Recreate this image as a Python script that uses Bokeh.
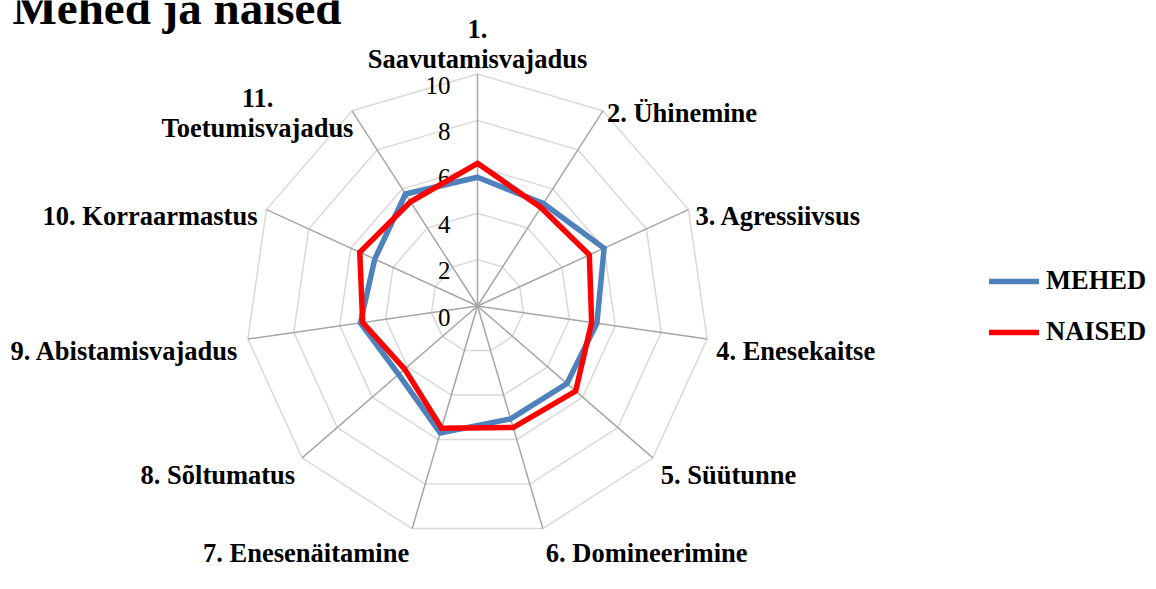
import math
from bokeh.plotting import figure
from bokeh.models import Range1d, Legend, LegendItem, Label
from bokeh.core.properties import value
from bokeh.embed import file_html
from bokeh.resources import INLINE

# ---------------- data ----------------
title_text = "Mehed ja naised"
categories = ["1. Saavutamisvajadus", "2. Ühinemine", "3. Agressiivsus",
              "4. Enesekaitse", "5. Süütunne", "6. Domineerimine",
              "7. Enesenäitamine", "8. Sõltumatus", "9. Abistamisvajadus",
              "10. Korraarmastus", "11. Toetumisvajadus"]
mehed = [5.55, 5.25, 6.0, 5.2, 5.1, 5.07, 5.7, 4.5, 5.1, 4.87, 5.74]
naised = [6.15, 5.05, 5.3, 4.97, 5.6, 5.46, 5.49, 4.15, 5.0, 5.58, 5.34]
series_names = ["MEHED", "NAISED"]
ticks = [0, 2, 4, 6, 8, 10]
r_max = 10

# ---------------- layout ----------------
W, H = 1156, 589
CX, CY = 477, 305.5          # centre of radar in figure px
UNIT = 23.2                  # px per value unit
FONT_NAME = "Liberation Serif"
FONT = value(FONT_NAME)
LBL_SIZE = "26.5px"

p = figure(frame_width=W, frame_height=H, output_backend="svg", toolbar_location=None,
           x_range=Range1d(-CX / UNIT, (W - CX) / UNIT),
           y_range=Range1d(-(H - CY) / UNIT, CY / UNIT),
           x_axis_location=None, y_axis_location=None,
           min_border=0, title=None)
p.grid.visible = False
p.outline_line_color = None
p.background_fill_color = "white"

n = len(categories)
ang = [math.pi / 2 - 2 * math.pi * k / n for k in range(n)]

# rings
ring_xs, ring_ys = [], []
for t in ticks[1:]:
    ring_xs.append([t * math.cos(a) for a in ang] + [t * math.cos(ang[0])])
    ring_ys.append([t * math.sin(a) for a in ang] + [t * math.sin(ang[0])])
p.multi_line(ring_xs, ring_ys, line_color="#d9d9d9", line_width=1.5)

# spokes
p.segment(x0=[0] * n, y0=[0] * n,
          x1=[r_max * math.cos(a) for a in ang],
          y1=[r_max * math.sin(a) for a in ang],
          line_color="#a6a6a6", line_width=1.5)

# tick labels
p.text(x=[-27 / UNIT] * len(ticks), y=[t - 11 / UNIT for t in ticks],
       text=[str(t) for t in ticks], text_font=FONT, text_font_size="25px",
       text_align="right", text_baseline="alphabetic", text_color="black")

# series
def closed(vals):
    xs = [v * math.cos(a) for v, a in zip(vals, ang)]
    ys = [v * math.sin(a) for v, a in zip(vals, ang)]
    return xs + xs[:1], ys + ys[:1]

bx, by = closed(mehed)
rx, ry = closed(naised)
r_blue = p.line(bx, by, line_color="#4F81BD", line_width=5.5, line_join="miter", line_cap="round")
r_red = p.line(rx, ry, line_color="#FF0000", line_width=5.5, line_join="miter", line_cap="round")

# category labels: (dx, dy) px offsets from spoke end, dy down; align
label_layout = {
    0: ("center", [(0, -45), (0, -15)]),
    1: ("left", [(4, 2)]),
    2: ("left", [(7, 6)]),
    3: ("left", [(9, 11.5)]),
    4: ("left", [(8, 17.5)]),
    5: ("left", [(3, 24)]),
    6: ("right", [(-3, 24)]),
    7: ("right", [(-7, 17.5)]),
    8: ("right", [(-9, 11.5)]),
    9: ("right", [(-9, 6)]),
    10: ("center", [(-94.6, -13.3), (-94.6, 17.5)]),
}
groups = {"left": ([], [], []), "right": ([], [], []), "center": ([], [], [])}
for k, cat in enumerate(categories):
    align, offs = label_layout[k]
    if len(offs) == 2:
        head, tail = cat.split(" ", 1)
        lines = [head, tail]
    else:
        lines = [cat]
    ex, ey = r_max * math.cos(ang[k]), r_max * math.sin(ang[k])
    for line, (dx, dy) in zip(lines, offs):
        g = groups[align]
        g[0].append(ex + dx / UNIT)
        g[1].append(ey - dy / UNIT)
        g[2].append(line)
for align, (xs, ys, ts) in groups.items():
    p.text(x=xs, y=ys, text=ts, text_font=FONT, text_font_style="bold",
           text_font_size=LBL_SIZE, text_align=align, text_baseline="alphabetic",
           text_color="black")

# legend
legend = Legend(items=[LegendItem(label=series_names[0], renderers=[r_blue]),
                       LegendItem(label=series_names[1], renderers=[r_red])],
                location=(989, 242), orientation="vertical",
                glyph_width=50, glyph_height=30, label_height=30, spacing=20,
                padding=0, margin=0, label_standoff=7,
                label_text_font=FONT_NAME, label_text_font_style="bold",
                label_text_font_size=LBL_SIZE, label_text_color="black",
                border_line_color=None, background_fill_alpha=0)
p.add_layout(legend)

# title (at the top edge, as in the reference)
p.add_layout(Label(x=12, y=H - 7, x_units="screen", y_units="screen",
                   text=title_text, text_font=FONT_NAME, text_font_style="bold",
                   text_font_size="47px", text_baseline="alphabetic",
                   text_color="black"))

open("out.html", "w").write(file_html(p, INLINE))
